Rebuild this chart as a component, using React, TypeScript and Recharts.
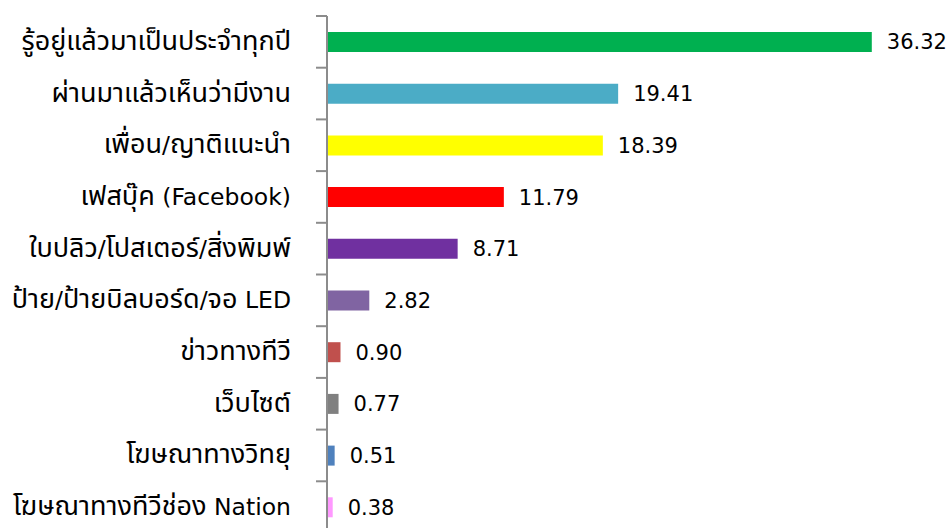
import { BarChart, Bar, XAxis, YAxis, Cell, LabelList } from "recharts"

// Categories (top to bottom) and their percentages
const categories = [
  "รู้อยู่แล้วมาเป็นประจำทุกปี",
  "ผ่านมาแล้วเห็นว่ามีงาน",
  "เพื่อน/ญาติแนะนำ",
  "เฟสบุ๊ค (Facebook)",
  "ใบปลิว/โปสเตอร์/สิ่งพิมพ์",
  "ป้าย/ป้ายบิลบอร์ด/จอ LED",
  "ข่าวทางทีวี",
  "เว็บไซต์",
  "โฆษณาทางวิทยุ",
  "โฆษณาทางทีวีช่อง Nation",
]
const values = [36.32, 19.41, 18.39, 11.79, 8.71, 2.82, 0.9, 0.77, 0.51, 0.38]
const barColors = [
  "#00B050",
  "#4BACC6",
  "#FFFF00",
  "#FF0000",
  "#7030A0",
  "#8064A2",
  "#C0504D",
  "#808080",
  "#4F81BD",
  "#FF99FF",
]

const data = categories.map((name, i) => ({ name, value: values[i] }))

const latinFont = "'DejaVu Sans', sans-serif"
const thaiFont = "'Noto Sans Thai', 'DejaVu Sans', sans-serif"
const axisColor = "#8c8c8c"
const TICK_SIZE = 11
const TICK_MARGIN = 25

// label text: Thai runs drawn a bit larger so they match the Tahoma look
function CategoryTick(props: any) {
  const { x, y, payload, index } = props
  const axisX = x + TICK_MARGIN + TICK_SIZE
  const half = payload.offset || 0
  const parts = String(payload.value).split(/([\u0E00-\u0E7F]+)/).filter((s) => s.length > 0)
  return (
    <g>
      <line x1={axisX - TICK_SIZE} x2={axisX} y1={y - half} y2={y - half} stroke={axisColor} strokeWidth={2} />
      {index === categories.length - 1 && (
        <line x1={axisX - TICK_SIZE} x2={axisX} y1={y + half} y2={y + half} stroke={axisColor} strokeWidth={2} />
      )}
      <text x={x} y={y} dy={8} textAnchor="end" fill="#000000" fontSize={23.5} fontFamily={latinFont}>
        {parts.map((p, i) =>
          /[\u0E00-\u0E7F]/.test(p) ? (
            <tspan key={i} fontFamily={thaiFont} fontSize={27}>
              {p}
            </tspan>
          ) : (
            <tspan key={i}>{p}</tspan>
          )
        )}
      </text>
    </g>
  )
}

export default function App() {
  return (
    <div style={{ position: "absolute", left: 0, top: 0 }}>
      <BarChart
        width={949}
        height={540}
        data={data}
        layout="vertical"
        margin={{ top: 16, right: 22, left: 0, bottom: 7 }}
      >
        <XAxis type="number" domain={[0, 40]} hide />
        <YAxis
          type="category"
          dataKey="name"
          width={327}
          axisLine={{ stroke: axisColor, strokeWidth: 2 }}
          tickLine={false}
          tickSize={TICK_SIZE}
          tickMargin={TICK_MARGIN}
          interval={0}
          tick={<CategoryTick />}
        />
        <Bar dataKey="value" barSize={20} isAnimationActive={false}>
          {data.map((d, i) => (
            <Cell key={d.name} fill={barColors[i]} />
          ))}
          <LabelList
            dataKey="value"
            position="right"
            offset={15}
            formatter={(v: any) => Number(v).toFixed(2)}
            style={{ fill: "#000000", fontSize: 21, fontFamily: latinFont }}
          />
        </Bar>
      </BarChart>
    </div>
  )
}
